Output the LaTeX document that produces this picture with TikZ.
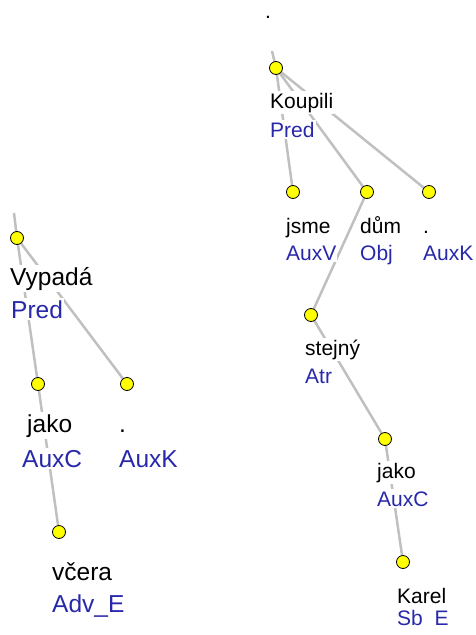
\documentclass[tikz,border=0pt]{standalone}
\usepackage{fontspec}
\setmainfont{Liberation Sans}
\usetikzlibrary{backgrounds}
\definecolor{edgegray}{RGB}{192,192,192}
\definecolor{funblue}{RGB}{40,40,170}
\definecolor{dotyellow}{RGB}{255,255,0}
\begin{document}
\begin{tikzpicture}[x=1pt,y=-1pt,
  tdot/.style={circle,draw=black,fill=dotyellow,minimum size=13pt,inner sep=0pt,line width=0.8pt},
  treeline/.style={draw=edgegray,line width=2.5pt},
  wordL/.style={anchor=base west,inner xsep=1pt,inner ysep=2pt,fill=white,text=black,font=\fontsize{24.5}{24.5}\selectfont},
  funL/.style={wordL,text=funblue},
  wordR/.style={anchor=base west,inner xsep=1pt,inner ysep=2pt,fill=white,text=black,font=\fontsize{21}{21}\selectfont},
  funR/.style={wordR,text=funblue}]
\useasboundingbox (0,0) rectangle (476,635);
\clip (0,0) rectangle (476,626.5);
% ---------- left tree ----------
\coordinate (lroot) at (14,213);
\node[tdot] (vyp) at (17,238) {};
\node[tdot] (jakoL) at (38,384) {};
\node[tdot] (auxkL) at (127,384) {};
\node[tdot] (vcera) at (59,532) {};
\node[wordL] (vypT) at (9,285) {Vypadá};
\node[funL] (vypF) at (10,318) {Pred};
\node[wordL] (jakoLT) at (26,432) {jako};
\node[funL] (jakoLF) at (21,467) {AuxC};
\node[wordL] (auxkLT) at (118,432) {.};
\node[funL] (auxkLF) at (118,467) {AuxK};
\node[wordL] (vceraT) at (51,580) {včera};
\node[funL] (vceraF) at (51,612) {Adv\_E};
% ---------- right tree ----------
\node[wordR] (rootT) at (264,18) {.};
\coordinate (rroot) at (272,51);
\node[tdot] (koup) at (276,68) {};
\node[tdot] (jsme) at (293,192) {};
\node[tdot] (dum) at (367,192) {};
\node[tdot] (auxkR) at (429,192) {};
\node[tdot] (stej) at (311,315) {};
\node[tdot] (jakoR) at (385,439) {};
\node[tdot] (karel) at (403,562) {};
\node[wordR] (koupT) at (269,108) {Koupili};
\node[funR] (koupF) at (269,137) {Pred};
\node[wordR] (jsmeT) at (285,233) {jsme};
\node[funR] (jsmeF) at (285,260) {AuxV};
\node[wordR] (dumT) at (359,233) {dům};
\node[funR] (dumF) at (359,260) {Obj};
\node[wordR] (auxkRT) at (422,233) {.};
\node[funR] (auxkRF) at (422,260) {AuxK};
\node[wordR] (stejT) at (304,355) {stejný};
\node[funR] (stejF) at (304,383) {Atr};
\node[wordR] (jakoRT) at (376,478) {jako};
\node[funR] (jakoRF) at (376,506) {AuxC};
\node[wordR] (karelT) at (396,603) {Karel};
\node[funR] (karelF) at (396,625) {Sb\_E};
% ---------- edges ----------
\begin{scope}[on background layer]
\draw[treeline] (lroot) -- (vyp.center);
\draw[treeline] (vyp.center) -- (jakoL.center);
\draw[treeline] (vyp.center) -- (auxkL.center);
\draw[treeline] (jakoL.center) -- (vcera.center);
\draw[treeline] (rroot) -- (koup.center);
\draw[treeline] (koup.center) -- (jsme.center);
\draw[treeline] (koup.center) -- (dum.center);
\draw[treeline] (koup.center) -- (auxkR.center);
\draw[treeline] (dum.center) -- (stej.center);
\draw[treeline] (stej.center) -- (jakoR.center);
\draw[treeline] (jakoR.center) -- (karel.center);
\end{scope}
\end{tikzpicture}
\end{document}
